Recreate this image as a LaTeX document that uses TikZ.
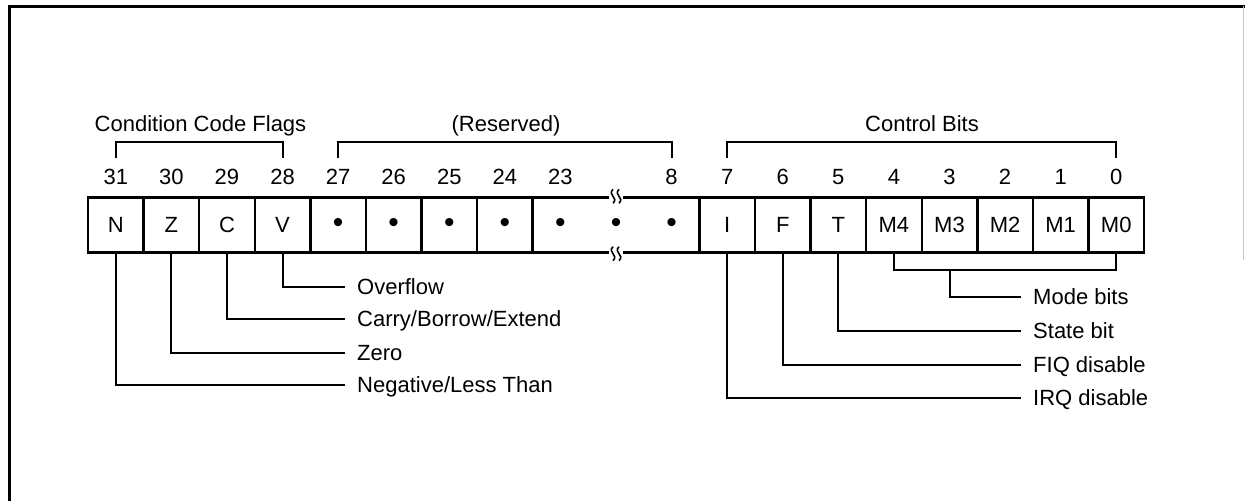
\documentclass[tikz,border=0pt]{standalone}
\usepackage{fontspec}
\setmainfont{Liberation Sans}
\usetikzlibrary{calc}

\newcommand{\bitdot}{{\fontsize{30}{30}\selectfont\textbullet}}

\begin{document}
\begin{tikzpicture}[
    x=1pt, y=-1pt,
    every node/.style={font=\fontsize{22}{24}\selectfont, inner sep=0pt},
    bitbox/.style={draw, line width=2.4pt, minimum width=55.6pt, minimum height=55pt},
    widebox/.style={bitbox, minimum width=166.8pt},
    desc/.style={anchor=west, text height=15.8pt, text depth=0pt},
    title/.style={anchor=base},
    lead/.style={line width=2pt, shorten >=12.5pt},
    brace/.style={line width=2pt}
]
\useasboundingbox (0,0) rectangle (1245,501);
\draw[line width=3pt] (9,501) -- (9,6.5) -- (1245,6.5);
\draw[gray!45, line width=0.8pt] (1243,6) -- (1243,260);

\foreach \n/\k/\t in {31/0/N,30/1/Z,29/2/C,28/3/V,27/4/\bitdot,26/5/\bitdot,
    25/6/\bitdot,24/7/\bitdot,7/11/I,6/12/F,5/13/T,4/14/M4,3/15/M3,2/16/M2,1/17/M1,0/18/M0}{
    \node[bitbox] (b\n) at ({88+55.58*(\k+0.5)},225) {\t};
    \node (n\n) at ({88+55.58*(\k+0.5)},177) {\n};
}
\node[widebox] (b23) at ({88+55.58*9.5},225) {};
\foreach \d/\m in {-1/a,0/b,1/c}
    \node (dot\m) at ($(b23.center)+(55.58*\d,0)$) {\bitdot};
\node (n23) at ({88+55.58*8.5},177) {23};
\node (n8) at ({88+55.58*10.5},177) {8};
\foreach \a in {north,south}{
    \fill[white] ($(b23.\a)+(-7,-5)$) rectangle ($(b23.\a)+(7,5)$);
    \foreach \s in {-3,3}
        \draw[line width=1.6pt] ($(b23.\a)+(\s,-7)$) .. controls ($(b23.\a)+(\s-6,-1)$) and ($(b23.\a)+(\s+6,1)$) .. ($(b23.\a)+(\s,7)$);
}

\node[title] (tcc) at (200.5,131) {Condition Code Flags};
\node[title] (tres) at (506,131) {(Reserved)};
\node[title] (tctl) at (922,131) {Control Bits};
\draw[brace] ($(n31.north)+(0,-11)$) -- ++(0,-16) -| ($(n28.north)+(0,-11)$);
\draw[brace] ($(n27.north)+(0,-11)$) -- ++(0,-16) -| ($(n8.north)+(0,-11)$);
\draw[brace] ($(n7.north)+(0,-11)$) -- ++(0,-16) -| ($(n0.north)+(0,-11)$);

\node[desc] (dv) at (357,287) {Overflow};
\node[desc] (dc) at (357,319) {Carry/Borrow/Extend};
\node[desc] (dz) at (357,353) {Zero};
\node[desc] (dn) at (357,385) {Negative/Less Than};
\draw[lead] (b28.south) |- (dv.west);
\draw[lead] (b29.south) |- (dc.west);
\draw[lead] (b30.south) |- (dz.west);
\draw[lead] (b31.south) |- (dn.west);

\node[desc] (dm) at (1033,297) {Mode bits};
\node[desc] (ds) at (1033,331) {State bit};
\node[desc] (df) at (1033,365) {FIQ disable};
\node[desc] (di) at (1033,398) {IRQ disable};
\draw[brace] (b4.south) -- ++(0,16) -| (b0.south);
\coordinate (mj) at ($(b3.south)+(0,16)$);
\draw[lead] (mj) |- (dm.west);
\draw[lead] (b5.south) |- (ds.west);
\draw[lead] (b6.south) |- (df.west);
\draw[lead] (b7.south) |- (di.west);
\end{tikzpicture}
\end{document}
